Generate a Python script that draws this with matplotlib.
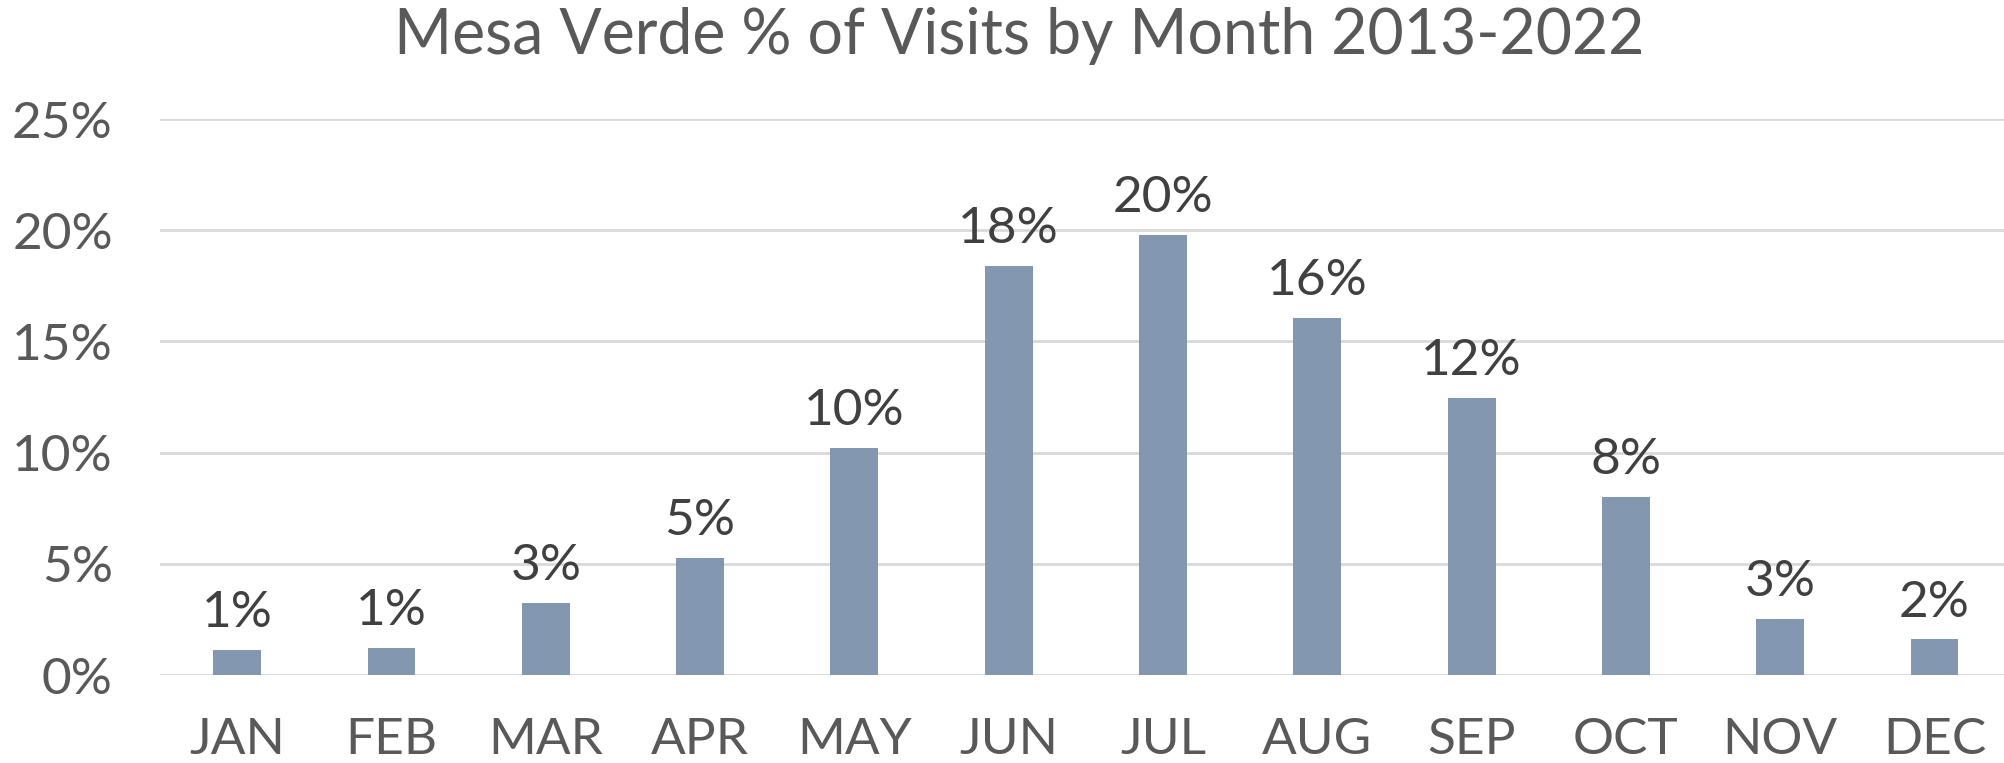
import matplotlib
matplotlib.use("Agg")
import matplotlib.pyplot as plt
from matplotlib.ticker import FuncFormatter

months = ["JAN", "FEB", "MAR", "APR", "MAY", "JUN", "JUL", "AUG", "SEP", "OCT", "NOV", "DEC"]
pct_visits = [1.14, 1.20, 3.24, 5.27, 10.21, 18.40, 19.79, 16.04, 12.45, 7.99, 2.51, 1.60]
y_ticks = [0, 5, 10, 15, 20, 25]
title = "Mesa Verde % of Visits by Month 2013-2022"

plt.rcParams['font.family'] = ['Lato', 'DejaVu Sans']

fig = plt.figure(figsize=(20.04, 7.63), dpi=100)
ax = fig.add_axes([160/2004, 1-675/763, 1-160/2004, (675-119)/763])

x = range(len(months))
bars = ax.bar(x, pct_visits, width=0.31, color="#8497B0", zorder=3)

ax.set_xlim(-0.5, 11.45)
ax.set_ylim(0, 25)
ax.set_yticks(y_ticks)
ax.yaxis.set_major_formatter(FuncFormatter(lambda v, p: f"{v:.0f}%"))
ax.set_xticks(list(x))
ax.set_xticklabels(months)
ax.grid(axis='y', color="#D9D9D9", linewidth=2, zorder=0)
for s in ax.spines.values():
    s.set_visible(False)
ax.tick_params(axis='both', length=0, labelsize=37, labelcolor="#595959")
ax.tick_params(axis='y', pad=34)
ax.tick_params(axis='x', pad=30)

for i, v in enumerate(pct_visits):
    ax.annotate(f"{v:.0f}%", (i, v), xytext=(0, 10), textcoords='offset points',
                ha='center', va='bottom', fontsize=37, color="#404040")

fig.text(1019/2004, 1-36/763, title, ha='center', va='center', fontsize=45, color="#595959")

fig.savefig("out.png", dpi=100)
